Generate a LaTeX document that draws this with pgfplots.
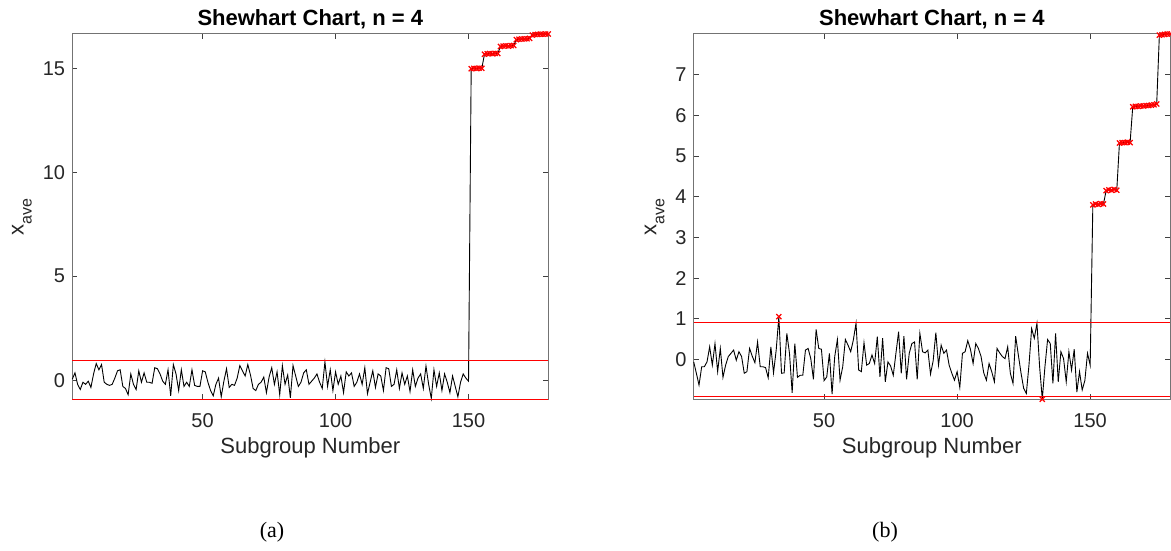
\documentclass[border=0pt]{standalone}
\usepackage{pgfplots}
\pgfplotsset{compat=1.18}
\usepackage{fontspec}
\setmainfont{Liberation Sans}
\newfontfamily\seriffont{Liberation Serif}
\definecolor{mgray}{RGB}{38,38,38}
\pgfplotsset{
 shew/.style={
  scale only axis, width=476pt, height=365.3pt, anchor=south west,
  xmin=1, xmax=180, xtick={50,100,150},
  tick align=inside, major tick length=5pt,
  xtick pos=both, ytick pos=both,
  axis line style={draw=black!55, line width=1pt},
  major tick style={draw=black!75, line width=0.8pt},
  tick label style={font=\fontsize{20}{20}\selectfont, text=mgray, inner sep=0pt},
  /pgf/number format/assume math mode=true,
  xticklabel style={anchor=base, yshift=-28.7pt},
  yticklabel style={anchor=east, xshift=-7pt},
  every axis title/.style={font=\fontsize{22}{22}\selectfont\bfseries, anchor=base, at={(axis description cs:0.5,1)}, yshift=8pt, inner sep=0pt},
  xlabel style={font=\fontsize{22}{22}\selectfont, text=mgray, at={(axis description cs:0.5,0)}, anchor=base, yshift=-54.7pt, inner sep=0pt},
  ylabel style={font=\fontsize{22}{22}\selectfont, text=mgray, anchor=center, inner sep=0pt},
  clip=false,
  title={Shewhart Chart, n = 4},
  xlabel={Subgroup Number},
  ylabel={x\raisebox{-8pt}{\fontsize{16}{16}\selectfont ave}},
 },
 dataline/.style={black, line width=0.9pt, mark=none},
 limline/.style={red, line width=1.2pt, mark=none},
 ooc/.style={red, only marks, mark=x, mark size=3.6pt, mark options={line width=1.25pt}},
}
\begin{document}
\begin{tikzpicture}
\path[use as bounding box] (0,0) rectangle (1171pt,551pt);
% ---------------- (a) ----------------
\begin{axis}[shew, at={(72.3pt,151.7pt)}, ymin=-0.92, ymax=16.65, ytick={0,5,10,15},
  ylabel style={at={(axis description cs:-0.1057,0.5)}}]
\addplot[dataline] coordinates {
(1,0.05)(2,0.35)(3,-0.2)(4,-0.45)(5,-0.1)(6,-0.2)(7,-0.05)(8,-0.35)(9,0.3)(10,0.8)
(11,0.5)(12,0.75)(13,-0.1)(14,-0.2)(15,-0.25)(16,-0.2)(17,0.1)(18,0.45)(19,0.5)(20,-0.3)
(21,-0.4)(22,-0.7)(23,0.3)(24,-0.2)(25,-0.45)(26,0.45)(27,-0.1)(28,0.35)(29,-0.1)(30,-0.1)
(31,-0.15)(32,0.6)(33,0.55)(34,0.3)(35,-0.05)(36,-0.2)(37,0.5)(38,-0.75)(39,0.75)(40,0.3)
(41,-0.5)(42,0.5)(43,-0.3)(44,-0.1)(45,-0.3)(46,0.5)(47,-0.25)(48,-0.3)(49,-0.3)(50,0.45)
(51,0.4)(52,-0.1)(53,-0.5)(54,-0.75)(55,-0.2)(56,0.1)(57,-0.8)(58,-0.05)(59,0.55)(60,-0.35)
(61,-0.2)(62,-0.25)(63,0.1)(64,0.7)(65,0.45)(66,0.2)(67,0.75)(68,0.25)(69,-0.4)(70,-0.5)
(71,-0.2)(72,-0.1)(73,0.15)(74,-0.6)(75,0.15)(76,0.6)(77,-0.2)(78,0.4)(79,-0.7)(80,0.7)
(81,-0.2)(82,0.25)(83,-0.85)(84,0.7)(85,0.2)(86,-0.3)(87,-0.1)(88,0.35)(89,0.5)(90,-0.2)
(91,-0.05)(92,0.1)(93,0.3)(94,-0.1)(95,-0.4)(96,0.88)(97,-0.3)(98,0.5)(99,-0.5)(100,0.4)
(101,-0.2)(102,0.2)(103,-0.6)(104,0.4)(105,0.2)(106,0.35)(107,-0.3)(108,-0.1)(109,0.3)(110,-0.2)
(111,0.6)(112,-0.65)(113,-0.1)(114,0.45)(115,-0.35)(116,0.3)(117,0.2)(118,-0.5)(119,0.6)(120,0.55)
(121,-0.3)(122,-0.2)(123,0.5)(124,-0.4)(125,0.35)(126,-0.2)(127,0.2)(128,-0.55)(129,0.5)(130,-0.3)
(131,0.1)(132,0.3)(133,-0.4)(134,0.68)(135,-0.2)(136,-0.88)(137,0.5)(138,-0.3)(139,0.35)(140,-0.5)
(141,0.3)(142,-0.1)(143,-0.6)(144,0.2)(145,-0.3)(146,-0.8)(147,-0.1)(148,0.3)(149,0.1)(150,-0.05)
(151,14.98)(152,15.0)(153,14.99)(154,15.01)(155,15.0)(156,15.68)(157,15.7)(158,15.71)(159,15.7)(160,15.72)
(161,15.71)(162,16.05)(163,16.07)(164,16.08)(165,16.07)(166,16.09)(167,16.1)(168,16.38)(169,16.4)(170,16.41)
(171,16.42)(172,16.42)(173,16.44)(174,16.6)(175,16.62)(176,16.63)(177,16.64)(178,16.64)(179,16.65)(180,16.65)
};
\addplot[limline] coordinates {(1,0.93)(180,0.93)};
\addplot[limline] coordinates {(1,-0.92)(180,-0.92)};
\addplot[ooc] coordinates {
(151,14.98)(152,15.0)(153,14.99)(154,15.01)(155,15.0)(156,15.68)(157,15.7)(158,15.71)(159,15.7)(160,15.72)
(161,15.71)(162,16.05)(163,16.07)(164,16.08)(165,16.07)(166,16.09)(167,16.1)(168,16.38)(169,16.4)(170,16.41)
(171,16.42)(172,16.42)(173,16.44)(174,16.6)(175,16.62)(176,16.63)(177,16.64)(178,16.64)(179,16.65)(180,16.65)
};
\end{axis}
% ---------------- (b) ----------------
\begin{axis}[shew, at={(693.7pt,151.7pt)}, width=476.3pt, ymin=-0.98, ymax=8.0, ytick={0,1,2,3,4,5,6,7},
  ylabel style={at={(axis description cs:-0.0819,0.5)}}]
\addplot[dataline] coordinates {
(1,-0.06)(2,-0.34)(3,-0.63)(4,-0.18)(5,-0.18)(6,-0.06)(7,0.31)(8,-0.14)(9,0.39)(10,-0.30)
(11,0.27)(12,-0.44)(13,-0.14)(14,0.07)(15,0.15)(16,0.23)(17,-0.02)(18,0.19)(19,0.07)(20,-0.34)
(21,-0.30)(22,0.27)(23,0.08)(24,-0.08)(25,0.43)(26,-0.18)(27,-0.18)(28,-0.20)(29,-0.45)(30,0.31)
(31,-0.33)(32,0.23)(33,1.05)(34,-0.34)(35,-0.33)(36,0.64)(37,0.15)(38,-0.82)(39,0.39)(40,-0.44)
(41,-0.39)(42,-0.39)(43,0.23)(44,0.27)(45,0.02)(46,-0.49)(47,0.74)(48,0.27)(49,0.25)(50,-0.52)
(51,-0.43)(52,0.15)(53,-0.85)(54,0.07)(55,0.49)(56,-0.51)(57,-0.18)(58,0.49)(59,0.35)(60,0.19)
(61,0.48)(62,0.89)(63,-0.26)(64,-0.30)(65,0.41)(66,-0.14)(67,-0.10)(68,0.11)(69,-0.10)(70,0.56)
(71,-0.43)(72,0.52)(73,-0.55)(74,-0.06)(75,-0.16)(76,-0.39)(77,0.15)(78,0.68)(79,-0.34)(80,0.57)
(81,-0.49)(82,0.15)(83,0.39)(84,0.43)(85,-0.49)(86,0.64)(87,0.19)(88,0.16)(89,0.23)(90,-0.36)
(91,-0.03)(92,0.66)(93,-0.14)(94,0.35)(95,0.15)(96,0.23)(97,-0.14)(98,-0.34)(99,-0.51)(100,-0.30)
(101,-0.69)(102,0.15)(103,0.19)(104,0.46)(105,0.25)(106,-0.10)(107,0.39)(108,0.27)(109,0.07)(110,-0.33)
(111,-0.51)(112,-0.10)(113,-0.30)(114,-0.55)(115,0.27)(116,0.16)(117,0.07)(118,0.02)(119,0.31)(120,-0.34)
(121,-0.59)(122,0.57)(123,0.11)(124,-0.33)(125,-0.71)(126,-0.84)(127,-0.14)(128,0.76)(129,0.52)(130,0.89)
(131,-0.18)(132,-0.98)(133,-0.18)(134,0.49)(135,0.39)(136,-0.59)(137,0.64)(138,-0.55)(139,0.19)(140,0.02)
(141,-0.55)(142,0.19)(143,-0.26)(144,0.25)(145,-0.80)(146,-0.30)(147,-0.75)(148,-0.52)(149,0.15)(150,-0.14)
(151,3.80)(152,3.82)(153,3.81)(154,3.83)(155,3.82)(156,4.15)(157,4.17)(158,4.16)(159,4.18)(160,4.16)
(161,5.32)(162,5.33)(163,5.33)(164,5.34)(165,5.33)(166,6.21)(167,6.22)(168,6.22)(169,6.23)(170,6.23)
(171,6.24)(172,6.24)(173,6.25)(174,6.26)(175,6.28)(176,7.97)(177,7.98)(178,7.99)(179,8.0)(180,8.0)
};
\addplot[limline] coordinates {(1,0.91)(180,0.91)};
\addplot[limline] coordinates {(1,-0.905)(180,-0.905)};
\addplot[ooc] coordinates {
(33,1.05)(132,-0.98)
(151,3.80)(152,3.82)(153,3.81)(154,3.83)(155,3.82)(156,4.15)(157,4.17)(158,4.16)(159,4.18)(160,4.16)
(161,5.32)(162,5.33)(163,5.33)(164,5.34)(165,5.33)(166,6.21)(167,6.22)(168,6.22)(169,6.23)(170,6.23)
(171,6.24)(172,6.24)(173,6.25)(174,6.26)(175,6.28)(176,7.97)(177,7.98)(178,7.99)(179,8.0)(180,8.0)
};
\end{axis}
\node[font=\seriffont\fontsize{22}{22}\selectfont, text=black] at (272pt,19pt) {(a)};
\node[font=\seriffont\fontsize{22}{22}\selectfont, text=black] at (885pt,19pt) {(b)};
\end{tikzpicture}
\end{document}
